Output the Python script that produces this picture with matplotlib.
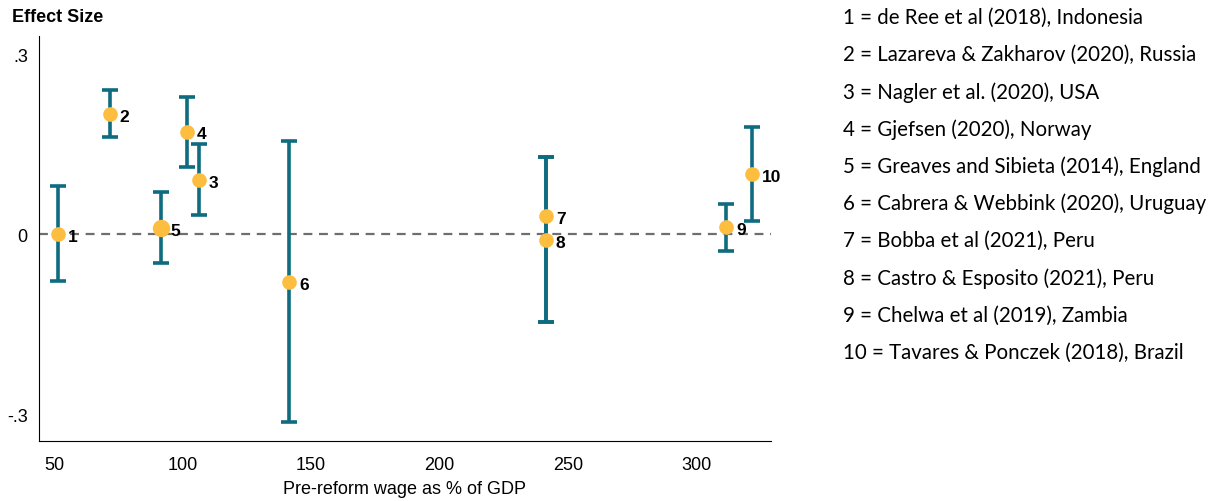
import numpy as np
import matplotlib
matplotlib.use('Agg')
import matplotlib.pyplot as plt

# study positions and estimates
ids = ['1', '2', '3', '4', '5', '6', '7', '8', '9', '10']
wage = [51.5, 71.7, 106.5, 101.6, 91.6, 141.5, 241.4, 241.4, 311.5, 321.5]
effect = [0.0, 0.20, 0.09, 0.17, 0.0105, -0.08, 0.0305, -0.0095, 0.011, 0.10]
ci_low = [-0.078, 0.162, 0.032, 0.112, -0.048, -0.314, -0.146, -0.146, -0.029, 0.022]
ci_high = [0.080, 0.240, 0.150, 0.229, 0.070, 0.156, 0.128, 0.128, 0.050, 0.179]
msize = [9.5, 9.5, 9.5, 9.5, 11.5, 9.5, 9.5, 9.5, 9.5, 9.5]
studies = ['de Ree et al (2018), Indonesia',
           'Lazareva & Zakharov (2020), Russia',
           'Nagler et al. (2020), USA',
           'Gjefsen (2020), Norway',
           'Greaves and Sibieta (2014), England',
           'Cabrera & Webbink (2020), Uruguay',
           'Bobba et al (2021), Peru',
           'Castro & Esposito (2021), Peru',
           'Chelwa et al (2019), Zambia',
           'Tavares & Ponczek (2018), Brazil']

teal = '#0e6b80'
gold = '#fdbd3f'

plt.rcParams['font.family'] = ['Liberation Sans', 'DejaVu Sans']
fig = plt.figure(figsize=(12.18, 5.02), dpi=100)
ax = fig.add_axes([0.032, 0.1195, 0.601, 0.8065])

eff = np.array(effect)
yerr = np.vstack([eff - np.array(ci_low), np.array(ci_high) - eff])
ax.errorbar(wage, effect, yerr=yerr, fmt='none', ecolor=teal, elinewidth=2.6,
            capsize=5.5, capthick=2.6, zorder=2)
ax.axhline(0, color='#6e6e6e', lw=1.6, ls=(0, (4, 3)), zorder=1)
for x, y, s, lab in zip(wage, effect, msize, ids):
    ax.plot(x, y, 'o', color=gold, ms=s, mec=gold, zorder=3)
    dy = -0.004 if lab != '4' else -0.002
    ax.annotate(lab, (x, y + dy), xytext=(7, 0), textcoords='offset points',
                va='center', ha='left', fontsize=12.5, fontweight='bold')

ax.set_xlim(44.2, 328.8)
ax.set_ylim(-0.345, 0.33)
ax.set_xticks([50, 100, 150, 200, 250, 300])
ax.set_yticks([-0.3, 0, 0.3])
ax.set_yticklabels(['-.3', '0', '.3'])
ax.tick_params(length=0, labelsize=13, pad=8)
ax.tick_params(axis='x', pad=11)
for s in ['top', 'right']:
    ax.spines[s].set_visible(False)
ax.set_xlabel('Pre-reform wage as % of GDP', fontsize=13)
ax.xaxis.set_label_coords(0.5, -0.097)
fig.text(0.0095, 0.965, 'Effect Size', fontsize=13, fontweight='bold', va='center')

for i, (lab, st) in enumerate(zip(ids, studies)):
    fig.text(0.692, 1 - (18 + 37.2 * i) / 502, f'{lab} = {st}', fontsize=14.8,
             family=['Lato', 'DejaVu Sans'], va='center')

fig.savefig('out.png', dpi=100)
